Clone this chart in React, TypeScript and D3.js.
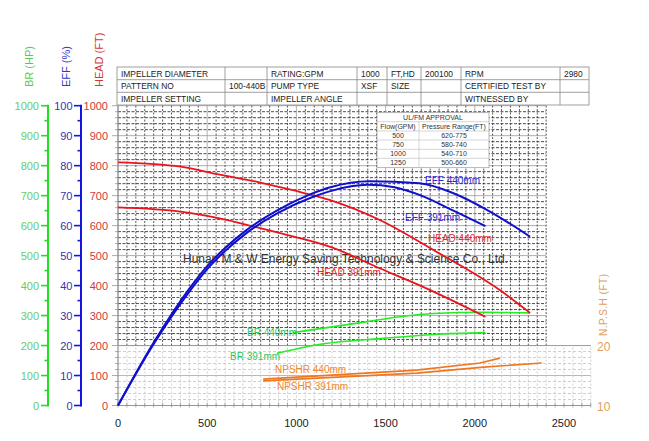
import React from 'react';
import * as d3 from 'd3';

const flowTicks = [0, 500, 1000, 1500, 2000, 2500];
const headTicks = [0, 100, 200, 300, 400, 500, 600, 700, 800, 900, 1000];
const effTicks = [0, 10, 20, 30, 40, 50, 60, 70, 80, 90, 100];
const brTicks = [0, 100, 200, 300, 400, 500, 600, 700, 800, 900, 1000];
const npshTicks = [10, 20];

const head440: [number, number][] = [[0, 811], [350, 797], [570, 770], [780, 746], [980, 718], [1190, 685], [1470, 618], [1770, 518], [2140, 385], [2310, 309]];
const head391: [number, number][] = [[0, 661], [360, 646], [570, 624], [780, 594], [980, 564], [1190, 529], [1470, 457], [1750, 385], [2060, 296]];
const eff440: [number, number][] = [[0, 0], [200, 21], [400, 39], [500, 46.5], [600, 52.5], [720, 58.5], [890, 65], [1080, 70.5], [1190, 72.8], [1410, 74.8], [1690, 74.1], [1880, 70.8], [2070, 65.2], [2310, 56.3]];
const eff391: [number, number][] = [[0, 0], [200, 20.5], [400, 38], [500, 45.5], [600, 51.5], [720, 57.5], [890, 64], [1080, 69.3], [1190, 71.5], [1400, 73.6], [1550, 72.8], [1700, 70], [1880, 65], [2060, 59.8]];
const br440: [number, number][] = [[980, 243], [1210, 263], [1390, 279], [1580, 296], [1770, 307], [2050, 311], [2310, 309]];
const br391: [number, number][] = [[890, 174], [1110, 202], [1490, 224], [1770, 237], [2060, 243]];
const npshr440: [number, number][] = [[814, 14.1], [1674, 15.4], [2050, 16.4], [2375, 17.1]];
const npshr391: [number, number][] = [[814, 14.4], [1674, 15.9], [2029, 17.1], [2141, 17.9]];

const tableRows = [
  ['IMPELLER DIAMETER', '', 'RATING:GPM', '1000', 'FT,HD', '200100', 'RPM', '2980'],
  ['PATTERN NO', '100-440B', 'PUMP TYPE', 'XSF', 'SIZE', '', 'CERTIFIED TEST BY', ''],
  ['IMPELLER SETTING', '', 'IMPELLER ANGLE', '', '', '', 'WITNESSED BY', ''],
];
const ulHeader = ['Flow(GPM)', 'Pressure Range(FT)'];
const ulRows = [['500', '620-775'], ['750', '580-740'], ['1000', '540-710'], ['1250', '500-660']];

const curveLabels = [
  { text: 'EFF 440mm', flow: 1721, head: 740, color: '#2a2ad0' },
  { text: 'EFF 391mm', flow: 1609, head: 614, color: '#2a2ad0' },
  { text: 'HEAD 440mm', flow: 1738, head: 547, color: '#e03030' },
  { text: 'HEAD 391mm', flow: 1115, head: 432, color: '#e03030' },
  { text: 'BR 440mm', flow: 723, head: 232, color: '#33c466' },
  { text: 'BR 391mm', flow: 628, head: 152, color: '#33c466' },
  { text: 'NPSHR 440mm', flow: 880, head: 107, color: '#ee8833' },
  { text: 'NPSHR 391mm', flow: 891, head: 52, color: '#ee8833' },
];

const FONT = "'Liberation Sans', Arial, Helvetica, sans-serif";

export default function App() {
  const W = 649, H = 441;
  const x = d3.scaleLinear().domain([0, 2500]).range([118, 564]);
  const yH = d3.scaleLinear().domain([0, 1000]).range([405.5, 105.7]);
  const yE = d3.scaleLinear().domain([0, 100]).range([405.5, 105.7]);
  const yN = d3.scaleLinear().domain([10, 60]).range([405.5, 105.7]);

  const lineH = d3.line<[number, number]>().x(d => x(d[0])).y(d => yH(d[1])).curve(d3.curveMonotoneX);
  const lineE = d3.line<[number, number]>().x(d => x(d[0])).y(d => yE(d[1])).curve(d3.curveMonotoneX);
  const lineN = d3.line<[number, number]>().x(d => x(d[0])).y(d => yN(d[1]));

  const topMaxFlow = 2400;
  const lowMaxFlow = 2650;
  const hLines = d3.range(0, 1001, 20);
  const vLines = d3.range(0, lowMaxFlow + 1, 50);

  const colX = [117, 225, 267, 357, 387, 421, 461, 560, 589];
  const rowY = [67, 79.7, 92.3, 105];

  const ulX = [377, 419, 489];
  const ulY = [112.7, 121.7, 131, 140, 149.3, 158.3, 167.7];

  return (
    <svg width={W} height={H} style={{ position: 'absolute', left: 0, top: 0, background: '#fff' }} fontFamily={FONT}>
      <rect x={0} y={0} width={W} height={H} fill="#fff" />
      {/* lower light grid */}
      {hLines.filter(v => v <= 200).map(v => (
        <line key={'lh' + v} x1={x(0)} x2={x(lowMaxFlow)} y1={yH(v)} y2={yH(v)}
          stroke={v % 100 === 0 ? '#999' : '#bbb'} strokeWidth={0.7} strokeDasharray={v % 100 === 0 ? undefined : '3,2'} />
      ))}
      {vLines.map(f => (
        <line key={'lv' + f} x1={x(f)} x2={x(f)} y1={yH(0)} y2={yH(200)}
          stroke="#bbb" strokeWidth={0.7} strokeDasharray="2,2" />
      ))}
      {/* upper dark grid */}
      {hLines.filter(v => v >= 200).map(v => (
        <line key={'uh' + v} x1={x(0)} x2={x(topMaxFlow)} y1={yH(v)} y2={yH(v)}
          stroke={v % 100 === 0 ? '#999' : '#111'} strokeWidth={v % 100 === 0 ? 0.8 : 0.75}
          strokeDasharray={v % 100 === 0 ? undefined : '3,1.5'} />
      ))}
      {vLines.filter(f => f <= topMaxFlow).map(f => (
        <line key={'uv' + f} x1={x(f)} x2={x(f)} y1={yH(200)} y2={yH(1000)}
          stroke={f % 500 === 0 ? '#999' : '#222'} strokeWidth={0.75}
          strokeDasharray={f % 500 === 0 ? undefined : '2,1.5'} />
      ))}

      {/* x axis */}
      <line x1={x(0)} x2={x(lowMaxFlow)} y1={yH(0)} y2={yH(0)} stroke="#888" strokeWidth={1} />
      {vLines.map(f => (
        <line key={'xt' + f} x1={x(f)} x2={x(f)} y1={yH(0) - 3} y2={yH(0) + 2} stroke="#888" strokeWidth={0.7} />
      ))}
      {flowTicks.map(f => (
        <text key={'xl' + f} x={x(f)} y={yH(0) + 21} fontSize={11} textAnchor="middle" fill="#222">{f}</text>
      ))}

      {/* head axis (plot left edge) */}
      <line x1={x(0)} x2={x(0)} y1={yH(0)} y2={yH(1000)} stroke="#888" strokeWidth={1} />
      {hLines.map(v => (
        <line key={'ht' + v} x1={x(0) - (v % 100 === 0 ? 6 : 3)} x2={x(0)} y1={yH(v)} y2={yH(v)} stroke="#888" strokeWidth={0.7} />
      ))}
      {headTicks.map(v => (
        <text key={'hl' + v} x={108} y={yH(v) + 4} fontSize={11} textAnchor="end" fill="#d03838">{v}</text>
      ))}
      <text transform={`translate(103,87) rotate(-90)`} fontSize={11} fill="#d03838">HEAD (FT)</text>

      {/* EFF axis */}
      <line x1={81} x2={81} y1={yE(0) + 1} y2={yE(100) - 1} stroke="#1515e0" strokeWidth={2} />
      {d3.range(0, 101, 5).map(v => (
        <line key={'et' + v} x1={v % 10 === 0 ? 74 : 77.5} x2={81} y1={yE(v)} y2={yE(v)} stroke="#1515e0" strokeWidth={1.6} />
      ))}
      {effTicks.map(v => (
        <text key={'el' + v} x={72.5} y={yE(v) + 4} fontSize={11} textAnchor="end" fill="#3535b0">{v}</text>
      ))}
      <text transform={`translate(70,87) rotate(-90)`} fontSize={11} fill="#3535c0">EFF (%)</text>

      {/* BR axis */}
      <line x1={48} x2={48} y1={yH(0) + 1} y2={yH(1000) - 1} stroke="#22dd22" strokeWidth={2} />
      {d3.range(0, 1001, 50).map(v => (
        <line key={'bt' + v} x1={v % 100 === 0 ? 41 : 44.5} x2={48} y1={yH(v)} y2={yH(v)} stroke="#22dd22" strokeWidth={1.6} />
      ))}
      {brTicks.map(v => (
        <text key={'bl' + v} x={39} y={yH(v) + 4} fontSize={11} textAnchor="end" fill="#66cc66">{v}</text>
      ))}
      <text transform={`translate(33,87) rotate(-90)`} fontSize={11} fill="#55cc55">BR (HP)</text>

      {/* NPSH right axis */}
      {npshTicks.map(v => (
        <g key={'nt' + v}>
          <line x1={x(0)} x2={591} y1={yN(v)} y2={yN(v)} stroke="#999" strokeWidth={0.8} />
          <text x={597} y={yN(v) + 5} fontSize={12} fill="#e0a060">{v}</text>
        </g>
      ))}
      <text transform={`translate(607,336) rotate(-90)`} fontSize={10} fill="#e0a060" letterSpacing={0.5}>N.P.S.H (FT)</text>

      {/* top info table */}
      <rect x={colX[0]} y={rowY[0]} width={colX[8] - colX[0]} height={rowY[3] - rowY[0]} fill="#fff" stroke="#888" strokeWidth={0.8} />
      {rowY.slice(1, 3).map((yy, i) => (
        <line key={'tr' + i} x1={colX[0]} x2={colX[8]} y1={yy} y2={yy} stroke="#888" strokeWidth={0.8} />
      ))}
      {colX.slice(1, 8).map((xx, i) => (
        <line key={'tc' + i} x1={xx} x2={xx} y1={rowY[0]} y2={rowY[3]} stroke="#888" strokeWidth={0.8} />
      ))}
      {tableRows.map((row, r) => row.map((cell, c) => cell ? (
        <text key={'tt' + r + '-' + c} x={colX[c] + 4} y={rowY[r] + 9.5} fontSize={8.4} fill="#222">{cell}</text>
      ) : null))}

      {/* UL/FM table */}
      <rect x={ulX[0]} y={ulY[0]} width={ulX[2] - ulX[0]} height={ulY[6] - ulY[0]} fill="#fff" stroke="#999" strokeWidth={0.7} />
      {ulY.slice(1, 6).map((yy, i) => (
        <line key={'ur' + i} x1={ulX[0]} x2={ulX[2]} y1={yy} y2={yy} stroke="#bbb" strokeWidth={0.6} />
      ))}
      <line x1={ulX[1]} x2={ulX[1]} y1={ulY[1]} y2={ulY[6]} stroke="#bbb" strokeWidth={0.6} />
      <text x={(ulX[0] + ulX[2]) / 2} y={ulY[0] + 7} fontSize={7} textAnchor="middle" fill="#333">UL/FM APPROVAL</text>
      {ulHeader.map((h, i) => (
        <text key={'uh' + i} x={(ulX[i] + ulX[i + 1]) / 2} y={ulY[1] + 7} fontSize={7} textAnchor="middle" fill="#333">{h}</text>
      ))}
      {ulRows.map((row, r) => row.map((cell, c) => (
        <text key={'uc' + r + c} x={(ulX[c] + ulX[c + 1]) / 2} y={ulY[r + 2] + 7} fontSize={7} textAnchor="middle" fill="#333">{cell}</text>
      )))}

      {/* watermark */}
      <text x={183} y={263} fontSize={12} fill="#333" textLength={325} lengthAdjust="spacingAndGlyphs">Hunan M &amp; W Energy Saving Technology &amp; Science Co., Ltd.</text>

      {/* curves */}
      <path d={lineN(npshr391) || ''} fill="none" stroke="#ee7722" strokeWidth={1.6} />
      <path d={lineN(npshr440) || ''} fill="none" stroke="#ee7722" strokeWidth={1.6} />
      <path d={lineH(br391) || ''} fill="none" stroke="#22ee22" strokeWidth={1.6} />
      <path d={lineH(br440) || ''} fill="none" stroke="#22ee22" strokeWidth={1.6} />
      <path d={lineH(head391) || ''} fill="none" stroke="#e8141e" strokeWidth={1.8} />
      <path d={lineH(head440) || ''} fill="none" stroke="#e8141e" strokeWidth={1.8} />
      <path d={lineE(eff391) || ''} fill="none" stroke="#1010cc" strokeWidth={2} />
      <path d={lineE(eff440) || ''} fill="none" stroke="#1010cc" strokeWidth={2} />

      {curveLabels.map(l => (
        <text key={l.text} x={x(l.flow)} y={yH(l.head)} fontSize={10} fill={l.color}>{l.text}</text>
      ))}
    </svg>
  );
}
